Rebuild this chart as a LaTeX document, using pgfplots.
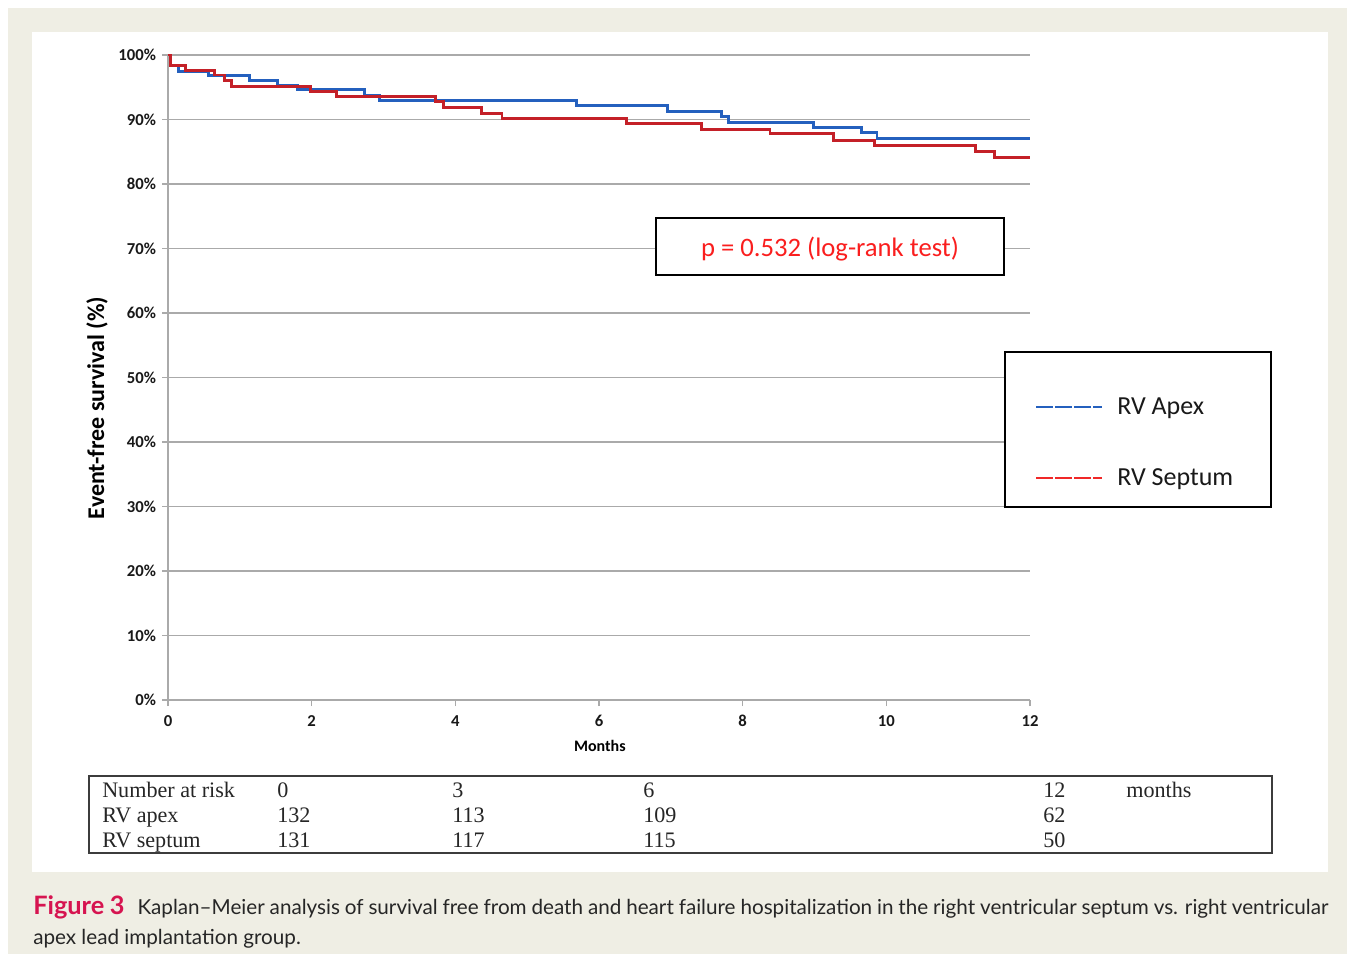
\documentclass[border=0pt]{standalone}
\usepackage{pgfplots}
\pgfplotsset{compat=1.18}
\usepackage{fontspec}
\setmainfont{Carlito}
\newfontfamily\timesf{Liberation Serif}
\newfontfamily\capf{Lato}
\definecolor{beige}{RGB}{239,238,228}
\definecolor{kmblue}{RGB}{36,96,190}
\definecolor{kmred}{RGB}{196,32,40}
\definecolor{legred}{RGB}{240,40,40}
\definecolor{pred}{RGB}{250,30,30}
\definecolor{gridgray}{RGB}{170,170,170}
\definecolor{crimson}{RGB}{214,20,80}
\definecolor{tabgray}{RGB}{60,60,60}
\pgfplotstableread{
m s
0 100
0.03 98.4
0.14 97.5
0.56 96.8
1.14 96.1
1.52 95.3
1.80 94.6
2.74 93.8
2.95 93.0
5.69 92.1
6.95 91.2
7.71 90.5
7.80 89.6
8.98 88.8
9.66 88.0
9.87 87.1
12 87.1
}\apex
\pgfplotstableread{
m s
0 100
0.03 98.3
0.24 97.6
0.65 96.9
0.79 96.1
0.89 95.1
1.98 94.3
2.35 93.5
3.72 92.8
3.83 91.9
4.36 91.0
4.65 90.1
6.38 89.4
7.43 88.5
8.38 87.8
9.26 86.8
9.84 86.0
11.24 85.1
11.51 84.1
12 84.1
}\septum
\begin{document}
\begin{tikzpicture}
\begin{scope}[x=0.75pt,y=-0.75pt]
\useasboundingbox (0,0) rectangle (1355,962);
\fill[white] (0,0) rectangle (1355,962);
\fill[beige] (8,8) rectangle (1347,954);
\fill[white] (32,32) rectangle (1328,872);
\end{scope}
\begin{axis}[
  at={(126pt,-525pt)}, anchor=south west,
  scale only axis, width=646.5pt, height=483.75pt,
  xmin=0, xmax=12, ymin=0, ymax=100,
  axis lines*=left,
  axis line style={draw=gridgray, line width=1.4pt},
  xtick={0,2,...,12}, ytick={0,10,...,100},
  xticklabels={0,2,4,6,8,10,12},
  yticklabels={0\%,10\%,20\%,30\%,40\%,50\%,60\%,70\%,80\%,90\%,100\%},
  tick align=outside, major tick length=4.5pt,
  tick style={draw=gridgray, line width=1.2pt},
  ymajorgrids, grid style={draw=gridgray, line width=1.4pt},
  ticklabel style={font=\fontsize{12.5}{14}\selectfont\bfseries, text=black!90},
  xticklabel style={yshift=-3.5pt},
  yticklabel style={xshift=-1pt},
  /pgf/number format/assume math mode=true,
  xlabel={Months},
  xlabel style={font=\fontsize{12}{14}\selectfont\bfseries, at={(axis description cs:0.501,-0.071)}, anchor=center},
  ylabel={Event-free survival (\%)},
  ylabel style={font=\fontsize{18}{20}\selectfont\bfseries, at={(axis description cs:-0.0824,0.453)}, anchor=center},
  clip=false,
]
\addplot[const plot, draw=kmblue, line width=2.2pt] table[x=m,y=s] {\apex};
\addplot[const plot, draw=kmred, line width=2.2pt] table[x=m,y=s] {\septum};
\end{axis}
\begin{scope}[x=0.75pt,y=-0.75pt]
% p-value box
\draw[black, line width=1.3pt, fill=white] (656,218) rectangle (1004,275);
\node[text=pred, font=\fontsize{20}{24}\selectfont] at (830,249.5) {p = 0.532 (log-rank test)};
% legend
\draw[black, line width=1.1pt, fill=white] (1005,352) rectangle (1271,507);
\draw[kmblue, line width=2.2pt, dash pattern=on 12.5pt off 1.8pt] (1036,407) -- (1102,407);
\node[anchor=west, font=\fontsize{19.5}{22}\selectfont, text=black!90, inner sep=0pt] at (1117,408.5) {RV Apex};
\draw[legred, line width=2.2pt, dash pattern=on 12.5pt off 1.8pt] (1036,478) -- (1102,478);
\node[anchor=west, font=\fontsize{19.5}{22}\selectfont, text=black!90, inner sep=0pt] at (1117,479.5) {RV Septum};
% number at risk table
\draw[tabgray, line width=1.5pt] (89,776) rectangle (1272,853);
\begin{scope}[every node/.style={anchor=base west, inner sep=0pt, font=\timesf\fontsize{16.6}{18}\selectfont, text=black!85}]
\node at (102,797) {Number at risk};
\node at (277,797) {0};
\node at (452,797) {3};
\node at (643,797) {6};
\node at (1043,797) {12};
\node at (1126,797) {months};
\node at (102,822) {RV apex};
\node at (277,822) {132};
\node at (452,822) {113};
\node at (643,822) {109};
\node at (1043,822) {62};
\node at (102,847) {RV septum};
\node at (277,847) {131};
\node at (452,847) {117};
\node at (643,847) {115};
\node at (1043,847) {50};
\end{scope}
% caption
\node[anchor=base west, inner sep=0pt, font=\capf\fontsize{15.5}{18}\selectfont, text=black!85] at (33,914)
  {\makebox[971.25pt][s]{{\fontsize{19}{20}\selectfont\bfseries\color{crimson}Figure 3}\hspace{6pt} Kaplan–Meier analysis of survival free from death and heart failure hospitalization in the right ventricular septum vs. right ventricular}};
\node[anchor=base west, inner sep=0pt, font=\capf\fontsize{15.5}{18}\selectfont, text=black!85] at (33,944)
  {apex lead implantation group.};
\end{scope}
\end{tikzpicture}
\end{document}
